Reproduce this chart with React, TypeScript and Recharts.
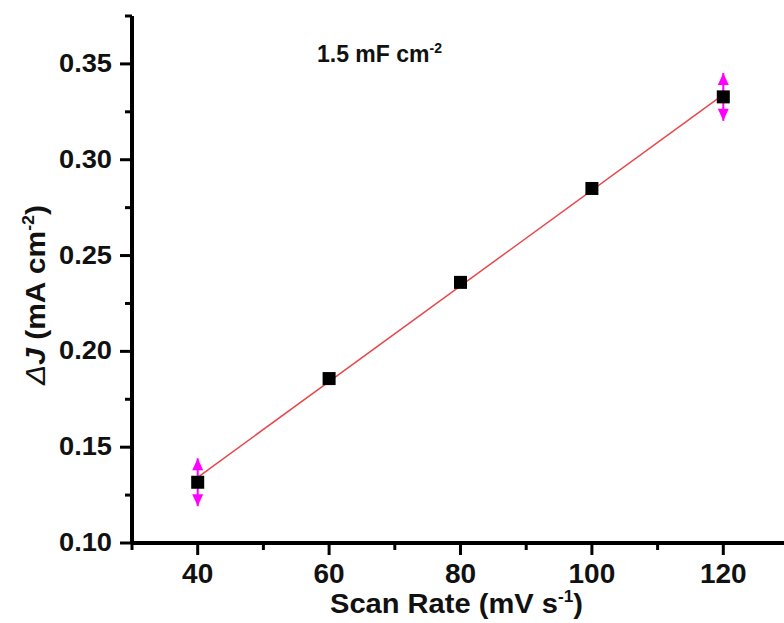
import {
  ComposedChart,
  Scatter,
  Line,
  XAxis,
  YAxis,
  ErrorBar,
} from "recharts";

// scan rate (mV s-1) and measured delta J (mA cm-2)
const scanRates = [40, 60, 80, 100, 120];
const deltaJ = [0.1317, 0.1858, 0.236, 0.285, 0.3328];
const errIdx = [0, 4];
const errValues = [0.0125, 0.0125];

// linear fit end points
const fitX = [40, 120];
const fitY = [0.1343, 0.334];

const xMajorTicks = [40, 60, 80, 100, 120];
const xMinorTicks = [30, 50, 70, 90, 110, 130];
const yMajorTicks = [0.1, 0.15, 0.2, 0.25, 0.3, 0.35];
const yMinorTicks = [0.125, 0.175, 0.225, 0.275, 0.325, 0.375];

const FONT = "'Liberation Sans', Arial, sans-serif";

const points = scanRates.map((x, i) => ({ x, y: deltaJ[i] }));
const errPoints = errIdx.map((i, k) => ({
  x: scanRates[i],
  y: deltaJ[i],
  err: errValues[k],
}));
const arrowUp = errPoints.map((p) => ({ x: p.x, y: p.y + p.err }));
const arrowDown = errPoints.map((p) => ({ x: p.x, y: p.y - p.err }));
const fitLine = fitX.map((x, i) => ({ x, y: fitY[i] }));

function XTick(props: any) {
  const { x, y, payload } = props;
  const major = xMajorTicks.includes(payload.value);
  return (
    <g>
      <line x1={x} x2={x} y1={y} y2={y + (major ? 12 : 7)} stroke="#000" strokeWidth={3} />
      {major && (
        <text x={x} y={y + 40} textAnchor="middle" fontFamily={FONT} fontWeight="bold" fontSize={28} fill="#111">
          {payload.value}
        </text>
      )}
    </g>
  );
}

function YTick(props: any) {
  const { x, y, payload } = props;
  const major = yMajorTicks.includes(payload.value);
  return (
    <g>
      <line x1={x} x2={x - (major ? 12 : 7)} y1={y} y2={y} stroke="#000" strokeWidth={3} />
      {major && (
        <text
          x={x - 20}
          y={y + 8}
          textAnchor="end"
          fontFamily={FONT}
          fontWeight="bold"
          fontSize={25}
          fill="#111"
          textLength={53}
          lengthAdjust="spacingAndGlyphs"
        >
          {payload.value.toFixed(2)}
        </text>
      )}
    </g>
  );
}

function SquareMark(props: any) {
  const { cx, cy } = props;
  return <rect x={cx - 6.5} y={cy - 6.5} width={13} height={13} fill="#000" />;
}

function HeadUp(props: any) {
  const { cx, cy } = props;
  return <polygon points={`${cx},${cy} ${cx - 5.5},${cy + 12} ${cx + 5.5},${cy + 12}`} fill="#ff00ff" />;
}

function HeadDown(props: any) {
  const { cx, cy } = props;
  return <polygon points={`${cx},${cy} ${cx - 5.5},${cy - 12} ${cx + 5.5},${cy - 12}`} fill="#ff00ff" />;
}

const noShape = () => <g />;

const axisStyle = { stroke: "#000", strokeWidth: 4 };

export default function App() {
  return (
    <div
      style={{
        position: "absolute",
        left: 0,
        top: 0,
        width: 784,
        height: 623,
        overflow: "hidden",
        background: "#fff",
      }}
    >
      <ComposedChart
        width={800}
        height={623}
        margin={{ top: 16, right: 11, bottom: 0, left: 0 }}
      >
        <XAxis
          dataKey="x"
          type="number"
          domain={[30, 130]}
          ticks={[...xMinorTicks, ...xMajorTicks].sort((a, b) => a - b)}
          interval={0}
          height={80}
          tickSize={0}
          tickMargin={0}
          tickLine={false}
          axisLine={axisStyle}
          tick={<XTick />}
          allowDataOverflow
        />
        <XAxis
          xAxisId="top"
          orientation="top"
          dataKey="x"
          type="number"
          domain={[30, 130]}
          height={0}
          tick={false}
          tickLine={false}
          axisLine={axisStyle}
        />
        <YAxis
          dataKey="y"
          type="number"
          domain={[0.1, 0.375]}
          ticks={[...yMinorTicks, ...yMajorTicks].sort((a, b) => a - b)}
          interval={0}
          width={132}
          tickSize={0}
          tickMargin={0}
          tickLine={false}
          axisLine={axisStyle}
          tick={<YTick />}
          allowDataOverflow
        />
        <Scatter data={errPoints} shape={noShape} isAnimationActive={false}>
          <ErrorBar dataKey="err" direction="y" width={0} stroke="#ff00ff" strokeWidth={2} isAnimationActive={false} />
        </Scatter>
        <Scatter data={arrowUp} shape={<HeadUp />} isAnimationActive={false} />
        <Scatter data={arrowDown} shape={<HeadDown />} isAnimationActive={false} />
        <Line
          data={fitLine}
          dataKey="y"
          stroke="#e8484c"
          strokeWidth={1.5}
          dot={false}
          activeDot={false}
          isAnimationActive={false}
        />
        <Scatter data={points} shape={<SquareMark />} isAnimationActive={false} />
      </ComposedChart>

      <svg
        width={784}
        height={623}
        style={{ position: "absolute", left: 0, top: 0, pointerEvents: "none" }}
        fontFamily={FONT}
        fill="#111"
      >
        <text x={317} y={62} fontSize={23} fontWeight="bold">
          1.5 mF cm
          <tspan dy={-9} fontSize={14}>-2</tspan>
        </text>
        <text
          x={330}
          y={613}
          fontSize={27}
          fontWeight="bold"
          textLength={253}
          lengthAdjust="spacingAndGlyphs"
        >
          Scan Rate (mV s
          <tspan dy={-11} fontSize={16}>-1</tspan>
          <tspan dy={11}>)</tspan>
        </text>
        <text
          x={45}
          y={385}
          fontSize={27}
          fontWeight="bold"
          textLength={180}
          lengthAdjust="spacingAndGlyphs"
          transform="rotate(-90 45 385)"
        >
          <tspan fontStyle="italic" fontWeight="normal">Δ</tspan>
          <tspan fontStyle="italic">J</tspan>
          <tspan> (mA cm</tspan>
          <tspan dy={-11} fontSize={16}>-2</tspan>
          <tspan dy={11}>)</tspan>
        </text>
      </svg>
    </div>
  );
}
